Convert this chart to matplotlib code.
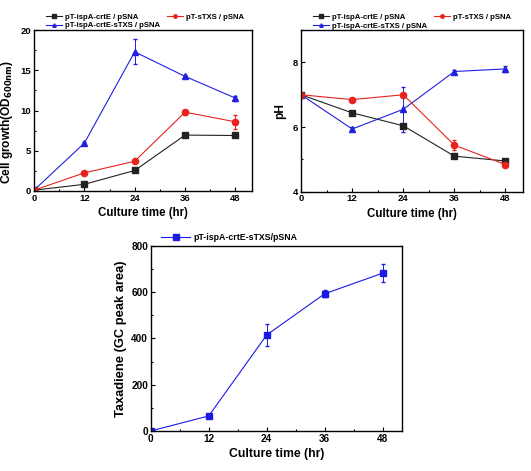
import matplotlib
matplotlib.use("Agg")
import matplotlib.pyplot as plt
from matplotlib.ticker import MultipleLocator

plt.rcParams['font.family'] = ['Liberation Sans Narrow', 'Liberation Sans', 'DejaVu Sans']
plt.rcParams['mathtext.fontset'] = 'custom'
plt.rcParams['mathtext.rm'] = 'Liberation Sans Narrow'
plt.rcParams['mathtext.bf'] = 'Liberation Sans Narrow:bold'

time = [0, 12, 24, 36, 48]
xticks = [0, 12, 24, 36, 48]

labels = ["pT-ispA-crtE / pSNA", "pT-sTXS / pSNA", "pT-ispA-crtE-sTXS / pSNA"]

od_crtE = [0.1, 0.83, 2.55, 6.95, 6.9]
od_crtE_err = [0, 0.1, 0.1, 0.1, 0.15]
od_sTXS = [0.1, 2.25, 3.7, 9.8, 8.6]
od_sTXS_err = [0, 0.1, 0.1, 0.3, 0.9]
od_both = [0.1, 5.95, 17.3, 14.25, 11.55]
od_both_err = [0, 0.15, 1.55, 0.2, 0.3]

ph_crtE = [7.0, 6.44, 6.04, 5.1, 4.95]
ph_crtE_err = [0, 0.03, 0.03, 0.03, 0.05]
ph_sTXS = [7.0, 6.85, 7.0, 5.44, 4.84]
ph_sTXS_err = [0, 0.03, 0.03, 0.15, 0.05]
ph_both = [7.0, 5.94, 6.55, 7.72, 7.8]
ph_both_err = [0, 0.05, 0.7, 0.06, 0.09]

tax_label = "pT-ispA-crtE-sTXS/pSNA"
tax = [0, 65, 415, 593, 682]
tax_err = [0, 5, 46, 16, 39]

fig = plt.figure(figsize=(5.31, 4.71), dpi=100)

ax1 = fig.add_axes([0.064, 0.5945, 0.411, 0.3415])
ax2 = fig.add_axes([0.567, 0.593, 0.417, 0.343])
ax3 = fig.add_axes([0.284, 0.085, 0.473, 0.393])

colors = ['#222222', '#e8231f', '#2020e0']
markers = ['s', 'o', '^']

def style(ax, xlsize, ticksize):
    ax.tick_params(which='both', direction='in', labelsize=ticksize, width=0.8, pad=2)
    ax.tick_params(which='major', length=3)
    ax.tick_params(which='minor', length=1.5)
    for s in ax.spines.values():
        s.set_linewidth(1.0)
    ax.set_xticks(xticks)
    ax.xaxis.set_minor_locator(MultipleLocator(6))
    ax.set_xlim(0, 52)
    for lbl in ax.get_xticklabels() + ax.get_yticklabels():
        lbl.set_fontweight('bold')
    ax.set_xlabel("Culture time (hr)", fontsize=xlsize, fontweight='bold', labelpad=3)

def legend(ax, handles, labs):
    ax.legend(handles, labs, loc='lower left', bbox_to_anchor=(0.035, 0.975), ncol=2,
              frameon=False, prop={'size': 5.6, 'weight': 'bold'}, handlelength=2.0,
              markerscale=0.55, columnspacing=0.9, labelspacing=0.15, handletextpad=0.4,
              borderpad=0.1)

# Panel 1
hs, ls = [], []
for y, e, c, m, lab in [(od_crtE, od_crtE_err, colors[0], markers[0], labels[0]),
                         (od_both, od_both_err, colors[2], markers[2], labels[2]),
                         (od_sTXS, od_sTXS_err, colors[1], markers[1], labels[1])]:
    h = ax1.errorbar(time, y, yerr=e, color=c, marker=m, markersize=4.5, linewidth=0.8,
                     elinewidth=0.7, capsize=1.5)
    hs.append(h[0])
    ls.append(lab)
ax1.set_ylim(0, 20)
ax1.set_yticks([0, 5, 10, 15, 20])
ax1.yaxis.set_minor_locator(MultipleLocator(2.5))
style(ax1, 8.3, 6.8)
ax1.set_ylabel(r"Cell growth(OD$_{\mathbf{600nm}}$)", fontsize=8.6, fontweight='bold')
ax1.yaxis.set_label_coords(-0.085, 0.43)
legend(ax1, hs, ls)

# Panel 2
hs, ls = [], []
for y, e, c, m, lab in [(ph_crtE, ph_crtE_err, colors[0], markers[0], labels[0]),
                         (ph_both, ph_both_err, colors[2], markers[2], labels[2]),
                         (ph_sTXS, ph_sTXS_err, colors[1], markers[1], labels[1])]:
    h = ax2.errorbar(time, y, yerr=e, color=c, marker=m, markersize=4.5, linewidth=0.8,
                     elinewidth=0.7, capsize=1.5)
    hs.append(h[0])
    ls.append(lab)
ax2.set_ylim(4, 9)
ax2.set_yticks([4, 6, 8])
ax2.yaxis.set_minor_locator(MultipleLocator(1))
style(ax2, 8.3, 6.8)
ax2.set_ylabel("pH", fontsize=8.6, fontweight='bold')
ax2.yaxis.set_label_coords(-0.068, 0.5)
legend(ax2, hs, ls)

# Panel 3
h = ax3.errorbar(time, tax, yerr=tax_err, color='#1a1ae6', marker='s', markersize=5, linewidth=0.8,
                 elinewidth=0.7, capsize=1.5)
ax3.set_ylim(0, 800)
ax3.set_yticks([0, 200, 400, 600, 800])
ax3.yaxis.set_minor_locator(MultipleLocator(100))
style(ax3, 8.8, 7.2)
ax3.set_ylabel("Taxadiene (GC peak area)", fontsize=9.3, fontweight='bold')
ax3.yaxis.set_label_coords(-0.094, 0.5)
ax3.legend([h[0]], [tax_label], loc='lower left', bbox_to_anchor=(0.02, 0.99), frameon=False,
           prop={'size': 6.3, 'weight': 'bold'}, handlelength=3.3, markerscale=0.8,
           handletextpad=0.4, borderpad=0.1)

fig.savefig("out.png", dpi=100)
